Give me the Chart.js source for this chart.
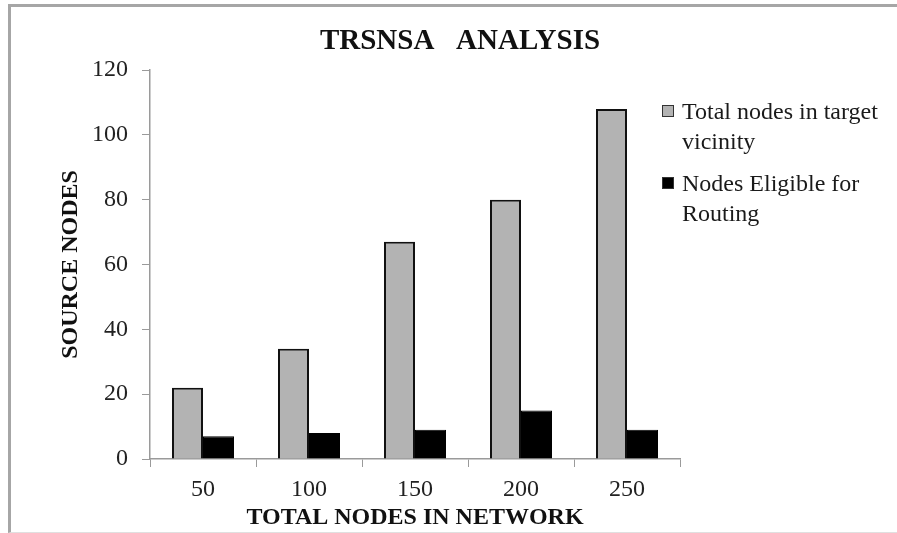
<!DOCTYPE html>
<html>
<head>
<meta charset="utf-8">
<script src="https://cdn.jsdelivr.net/npm/chart.js@4.4.1/dist/chart.umd.min.js"></script>
<style>
    html, body { margin: 0; padding: 0; background: #fff; }
    #wrap { position: relative; width: 897px; height: 533px; overflow: hidden; }
    #frame {
        position: absolute; left: 8px; top: 4px; right: -10px; bottom: 0px;
        border-top: 3px solid #a6a6a6; border-left: 3px solid #a6a6a6;
        border-bottom: 1px solid #e0e0e0; pointer-events: none;
    }
    canvas { position: absolute; left: 0; top: 0; }
    #legend {
        position: absolute; left: 662px; top: 96px;
        font-family: "Liberation Serif", "Times New Roman", serif;
        font-size: 24px; line-height: 30px; color: #1a1a1a;
    }
    .item { display: flex; align-items: flex-start; margin-bottom: 12px; }
    .box { width: 12px; height: 12px; margin-top: 9px; margin-right: 8px; box-sizing: border-box; border: 1px solid #333; flex: none; }
    .txt { width: 212px; }
</style>
</head>
<body>
<div id="wrap">
    <canvas id="chart" width="897" height="533"></canvas>
    <div id="frame"></div>
    <div id="legend"></div>
</div>
<script>
    const categories = ['50', '100', '150', '200', '250'];
    const totalNodes = [22, 34, 67, 80, 108];
    const eligibleNodes = [7, 8, 9, 15, 9];
    const seriesNames = ['Total nodes in target vicinity', 'Nodes Eligible for Routing'];
    const yTicks = [0, 20, 40, 60, 80, 100, 120];

    const serif = '"Liberation Serif", "Times New Roman", serif';
    const axisGray = '#9a9a9a';

    const titlePlugin = {
        id: 'fixedTitle',
        afterDraw(chart) {
            const ctx = chart.ctx;
            ctx.save();
            ctx.font = 'bold 29px ' + serif;
            ctx.fillStyle = '#111';
            ctx.textAlign = 'center';
            ctx.textBaseline = 'middle';
            ctx.fillText('TRSNSA   ANALYSIS', 460, 42);
            ctx.restore();
        }
    };

    const chart = new Chart(document.getElementById('chart'), {
        type: 'bar',
        data: {
            labels: categories,
            datasets: [
                {
                    label: seriesNames[0],
                    data: totalNodes,
                    backgroundColor: '#b3b3b3',
                    borderColor: '#111',
                    borderWidth: 2
                },
                {
                    label: seriesNames[1],
                    data: eligibleNodes,
                    backgroundColor: '#000',
                    borderColor: '#000',
                    borderWidth: 1
                }
            ]
        },
        options: {
            responsive: false,
            animation: false,
            layout: { padding: { left: 10, top: 70, right: 217, bottom: 0 } },
            plugins: {
                legend: { display: false },
                title: { display: false },
                tooltip: { enabled: false }
            },
            datasets: {
                bar: { barPercentage: 1, categoryPercentage: 0.585 }
            },
            scales: {
                x: {
                    afterFit: (s) => { s.height = 74; },
                    grid: {
                        offset: true,
                        drawOnChartArea: false,
                        tickLength: 8,
                        color: axisGray
                    },
                    border: { color: axisGray, width: 1.5 },
                    ticks: {
                        padding: 8,
                        color: '#222',
                        font: { family: serif, size: 24 }
                    },
                    title: {
                        display: true,
                        text: 'TOTAL NODES IN NETWORK',
                        color: '#111',
                        font: { family: serif, size: 24, weight: 'bold' },
                        padding: { top: 0, bottom: 1 }
                    }
                },
                y: {
                    min: 0,
                    max: 120,
                    afterFit: (s) => { s.width = 140; },
                    afterBuildTicks: (s) => { s.ticks = yTicks.map(v => ({ value: v })); },
                    grid: {
                        drawOnChartArea: false,
                        tickLength: 8,
                        color: axisGray
                    },
                    border: { color: axisGray, width: 1.5 },
                    ticks: {
                        padding: 14,
                        color: '#222',
                        font: { family: serif, size: 24 }
                    },
                    title: {
                        display: true,
                        text: 'SOURCE NODES',
                        color: '#111',
                        font: { family: serif, size: 24, weight: 'bold' },
                        padding: { top: 46, bottom: 0 }
                    }
                }
            }
        },
        plugins: [titlePlugin]
    });

    // legend built from the datasets
    const legend = document.getElementById('legend');
    chart.data.datasets.forEach(ds => {
        const item = document.createElement('div');
        item.className = 'item';
        const box = document.createElement('span');
        box.className = 'box';
        box.style.background = ds.backgroundColor;
        const txt = document.createElement('span');
        txt.className = 'txt';
        txt.textContent = ds.label;
        item.appendChild(box);
        item.appendChild(txt);
        legend.appendChild(item);
    });
</script>
</body>
</html>
